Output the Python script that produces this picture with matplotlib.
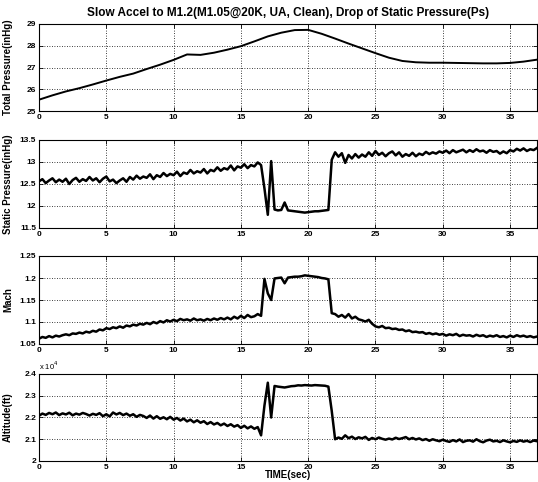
import numpy as np
import matplotlib
matplotlib.use("Agg")
import matplotlib.pyplot as plt

plt.rcParams['font.family'] = ['Liberation Sans', 'DejaVu Sans']

title = "Slow Accel to M1.2(M1.05@20K, UA, Clean), Drop of Static Pressure(Ps)"
xlabel = "TIME(sec)"
ylabels = ["Total Pressure(inHg)", "Static Pressure(inHg)", "Mach", "Altitude(ft)"]

# Total pressure, sampled at 1 s
pt_time = list(range(0, 38))
pt_vals = [25.52, 25.72, 25.90, 26.05, 26.22, 26.40, 26.57, 26.72, 26.93, 27.13,
           27.35, 27.60, 27.58, 27.68, 27.82, 27.98, 28.20, 28.43, 28.60, 28.72,
           28.73, 28.55, 28.33, 28.10, 27.88, 27.66, 27.45, 27.30, 27.24, 27.22,
           27.22, 27.21, 27.20, 27.19, 27.19, 27.21, 27.27, 27.36]

# Noisy channels, sampled at 0.25 s (0 .. 37 s)
step = 0.25
ps_vals = [
    12.56, 12.61, 12.52, 12.58, 12.63, 12.54, 12.60, 12.55,
    12.62, 12.50, 12.59, 12.64, 12.55, 12.61, 12.57, 12.66,
    12.58, 12.63, 12.54, 12.62, 12.67, 12.56, 12.60, 12.52,
    12.58, 12.63, 12.55, 12.66, 12.60, 12.69, 12.62, 12.67,
    12.64, 12.72, 12.61, 12.70, 12.66, 12.75, 12.68, 12.73,
    12.70, 12.78, 12.68, 12.76, 12.73, 12.82, 12.74, 12.79,
    12.76, 12.84, 12.74, 12.82, 12.79, 12.88, 12.80, 12.86,
    12.83, 12.92, 12.81, 12.90, 12.87, 12.95, 12.86, 12.93,
    12.90, 12.99, 12.93, 12.40, 11.80, 13.02, 11.92, 11.90,
    11.91, 12.08, 11.90, 11.89, 11.88, 11.87, 11.86, 11.85,
    11.86, 11.87, 11.88, 11.88, 11.89, 11.90, 11.91, 13.05,
    13.22, 13.12, 13.20, 12.98, 13.16, 13.08, 13.18, 13.10,
    13.17, 13.12, 13.22, 13.14, 13.25, 13.16, 13.21, 13.13,
    13.20, 13.24, 13.15, 13.22, 13.12, 13.18, 13.14, 13.21,
    13.13, 13.19, 13.16, 13.23, 13.18, 13.22, 13.19, 13.24,
    13.21, 13.26, 13.20, 13.27, 13.22, 13.25, 13.28, 13.22,
    13.27, 13.23, 13.29, 13.24, 13.26, 13.21, 13.27, 13.23,
    13.25, 13.19, 13.24, 13.20, 13.27, 13.24, 13.30, 13.26,
    13.31, 13.25, 13.29, 13.27, 13.32]

mach_vals = [
    1.062, 1.066, 1.064, 1.068, 1.065, 1.069, 1.067, 1.070,
    1.072, 1.070, 1.074, 1.073, 1.076, 1.074, 1.078, 1.076,
    1.080, 1.078, 1.083, 1.081, 1.086, 1.084, 1.088, 1.086,
    1.090, 1.087, 1.092, 1.090, 1.094, 1.092, 1.096, 1.094,
    1.098, 1.095, 1.100, 1.097, 1.102, 1.099, 1.104, 1.101,
    1.105, 1.102, 1.107, 1.104, 1.106, 1.103, 1.108, 1.104,
    1.106, 1.103, 1.107, 1.104, 1.108, 1.105, 1.109, 1.106,
    1.110, 1.106, 1.112, 1.108, 1.114, 1.109, 1.116, 1.111,
    1.113, 1.118, 1.114, 1.198, 1.165, 1.150, 1.199, 1.200,
    1.201, 1.188, 1.201, 1.202, 1.203, 1.203, 1.204, 1.206,
    1.205, 1.204, 1.203, 1.202, 1.200, 1.199, 1.197, 1.120,
    1.118, 1.112, 1.116, 1.110, 1.118, 1.108, 1.112, 1.106,
    1.104, 1.101, 1.105, 1.096, 1.090, 1.088, 1.091, 1.086,
    1.087, 1.084, 1.085, 1.082, 1.083, 1.079, 1.081, 1.077,
    1.078, 1.076, 1.077, 1.073, 1.075, 1.072, 1.074, 1.071,
    1.073, 1.069, 1.072, 1.070, 1.073, 1.068, 1.071, 1.069,
    1.070, 1.067, 1.071, 1.068, 1.070, 1.066, 1.069, 1.067,
    1.070, 1.066, 1.068, 1.065, 1.069, 1.066, 1.070, 1.067,
    1.069, 1.066, 1.068, 1.065, 1.067]

alt_vals = [
    22080, 22180, 22120, 22210, 22150, 22230, 22110, 22190,
    22140, 22220, 22100, 22180, 22130, 22210, 22160, 22090,
    22170, 22120, 22200, 22060, 22150, 22050, 22230, 22140,
    22210, 22110, 22180, 22080, 22150, 22030, 22120, 22070,
    21980, 22090, 21950, 22060, 21940, 22010, 21920, 22030,
    21900, 21980, 21860, 21950, 21820, 21900, 21780, 21870,
    21760, 21830, 21700, 21790, 21680, 21750, 21640, 21720,
    21610, 21690, 21580, 21650, 21520, 21620, 21500, 21590,
    21480, 21560, 21180, 22550, 23600, 22000, 23450, 23420,
    23400, 23380, 23410, 23440, 23450, 23480, 23470, 23490,
    23480, 23470, 23490, 23480, 23470, 23460, 23420, 22300,
    21000, 21080, 21020, 21180, 21050, 21120, 21010, 21090,
    21040, 21110, 20970, 21060, 21000, 21080, 21020, 20980,
    21030, 20990, 21070, 21010, 21050, 21100, 21000, 21060,
    20990, 21040, 20960, 21010, 20930, 21000, 20950, 20910,
    20980, 20920, 20880, 20960, 20900, 20990, 20870, 20930,
    20950, 20890, 21000, 20910, 20860, 20940, 20980, 20900,
    20930, 20870, 20950, 20900, 20860, 20920, 20880, 20950,
    20890, 20930, 20870, 20940, 20910]

noisy_time = np.arange(len(ps_vals)) * step

xticks = [0, 5, 10, 15, 20, 25, 30, 35]
yticks = [
    [25, 26, 27, 28, 29],
    [11.5, 12, 12.5, 13, 13.5],
    [1.05, 1.1, 1.15, 1.2, 1.25],
    [20000, 21000, 22000, 23000, 24000],
]
ytick_labels = [
    ["25", "26", "27", "28", "29"],
    ["11.5", "12", "12.5", "13", "13.5"],
    ["1.05", "1.1", "1.15", "1.2", "1.25"],
    ["2", "2.1", "2.2", "2.3", "2.4"],
]
ylims = [(25, 29), (11.5, 13.5), (1.05, 1.25), (20000, 24000)]
alt_multiplier_text = r"x 10$^4$"

W, H = 538, 482
fig = plt.figure(figsize=(W / 100, H / 100), dpi=100)
fig.patch.set_facecolor('white')

left_px, right_px = 39, 537
panels_px = [(24, 111), (140, 228), (256, 344), (374, 461)]

series = [
    (pt_time, pt_vals, 1.4),
    (noisy_time, ps_vals, 1.8),
    (noisy_time, mach_vals, 1.8),
    (noisy_time, alt_vals, 1.8),
]

axes = []
for i, (top, bot) in enumerate(panels_px):
    ax = fig.add_axes([left_px / W, 1 - bot / H, (right_px - left_px) / W, (bot - top) / H])
    x, y, lw = series[i]
    ax.plot(x, y, color='black', lw=lw)
    ax.set_xlim(0, 37)
    ax.set_ylim(*ylims[i])
    ax.set_xticks(xticks)
    ax.set_xticklabels([str(v) for v in xticks])
    ax.set_yticks(yticks[i])
    ax.set_yticklabels(ytick_labels[i])
    ax.grid(True, color='black', linestyle=(0, (1, 2)), linewidth=0.6)
    ax.tick_params(direction='in', length=3, width=0.6, labelsize=6, pad=2,
                   top=True, right=True)
    for lab in ax.get_xticklabels() + ax.get_yticklabels():
        lab.set_fontweight('bold')
    ax.set_ylabel(ylabels[i], fontsize=7, fontweight='bold', labelpad=3)
    for s in ax.spines.values():
        s.set_linewidth(0.8)
    axes.append(ax)

axes[3].text(0.0, 1.02, alt_multiplier_text, transform=axes[3].transAxes,
             fontsize=5.5, ha='left', va='bottom')

axes[0].set_title(title, fontsize=8.5, fontweight='bold', pad=6)
fig.text(288 / W, 1.5 / H, xlabel, fontsize=7, fontweight='bold',
         ha='center', va='bottom')

for ax in axes:
    ax.yaxis.set_label_coords(-0.052, 0.5)

fig.savefig("out.png", dpi=100, facecolor='white')
